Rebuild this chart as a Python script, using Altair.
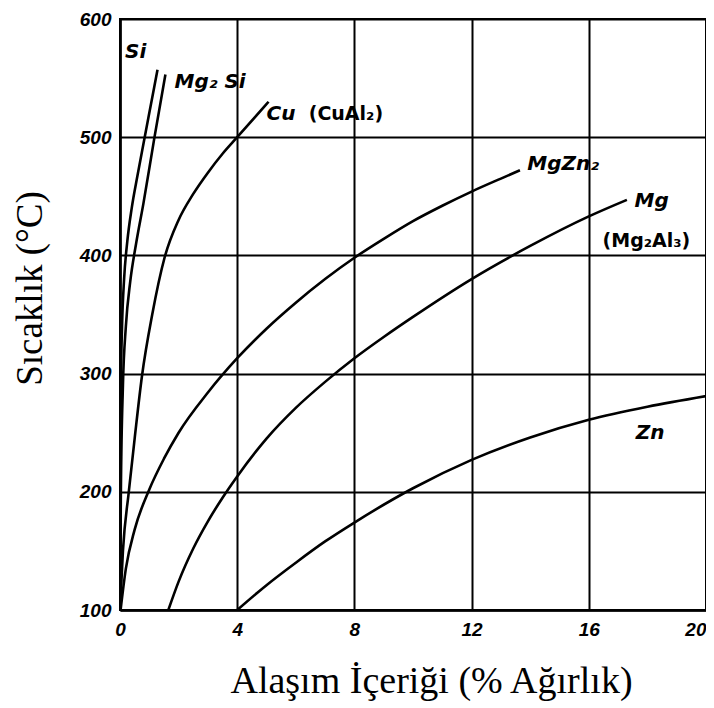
import altair as alt
import pandas as pd

# ---- data ----
si_x = [0.0, 0.01, 0.03, 0.07, 0.14, 0.25, 0.40, 0.60, 0.82, 1.05, 1.28]
si_y = [100, 200, 290, 340, 380, 412, 440, 468, 497, 527, 557]

mg2si_x = [0.0, 0.03, 0.10, 0.20, 0.35, 0.55, 0.80, 1.17, 1.55]
mg2si_y = [100, 200, 290, 340, 378, 410, 444, 499, 553]

cu_x = [0.0, 0.1, 0.3, 0.5, 0.75, 1.1, 1.52, 2.0, 2.5, 3.0, 3.5, 4.0, 5.07]
cu_y = [100, 150, 200, 245, 298, 350, 398, 430, 452, 470, 486, 500, 530]

mgzn2_x = [0.02, 0.2, 0.5, 1.0, 1.5, 2.0, 3.0, 4.0, 5.0, 6.0, 7.0, 8.0, 9.0,
           10.0, 11.0, 12.0, 13.0, 13.65]
mgzn2_y = [100, 135, 168, 202, 228, 250, 284, 313, 338, 360, 380, 398, 414,
           429, 442, 454, 465, 472]

mg_x = [1.65, 2.0, 2.5, 3.0, 3.5, 4.0, 5.0, 6.0, 7.0, 8.0, 9.0, 10.0, 12.0,
        14.0, 16.0, 17.3]
mg_y = [100, 124, 152, 175, 195, 213, 245, 271, 293, 313, 331, 348, 380,
        408, 433, 447]

zn_x = [4.0, 5.0, 6.0, 7.0, 8.0, 10.0, 12.0, 14.0, 16.0, 18.0, 20.0]
zn_y = [100, 121, 140, 158, 174, 203, 227, 246, 261, 272, 281]

series = {
    "Si": (si_x, si_y),
    "Mg2Si": (mg2si_x, mg2si_y),
    "Cu": (cu_x, cu_y),
    "MgZn2": (mgzn2_x, mgzn2_y),
    "Mg": (mg_x, mg_y),
    "Zn": (zn_x, zn_y),
}

rows = []
for name, (xs, ys) in series.items():
    for i, (xv, yv) in enumerate(zip(xs, ys)):
        rows.append({"series": name, "x": xv, "y": yv, "order": i})
lines_df = pd.DataFrame(rows)

big_labels = ["Si", "Mg\u2082 Si", "Cu", "MgZn\u2082", "Mg", "Zn"]
big_x = [0.17, 1.86, 5.0, 13.9, 17.56, 17.6]
big_y = [572, 547, 520, 477, 446, 250]

small_labels = ["(CuAl\u2082)", "(Mg\u2082Al\u2083)"]
small_x = [6.44, 16.47]
small_y = [520, 412]

x_ticks = [0, 4, 8, 12, 16, 20]
y_ticks = [100, 200, 300, 400, 500, 600]

big_df = pd.DataFrame({"label": big_labels, "x": big_x, "y": big_y})
small_df = pd.DataFrame({"label": small_labels, "x": small_x, "y": small_y})

xscale = alt.Scale(domain=[0, 20], nice=False, zero=False)
yscale = alt.Scale(domain=[100, 600], nice=False, zero=False)

xaxis = alt.Axis(
    values=x_ticks, grid=True, ticks=False, domain=True,
    title="Alaşım İçeriği (% Ağırlık)",
    titleFont="Liberation Serif", titleFontSize=38, titleFontWeight="normal",
    titleColor="black", titleX=311, titleY=82, titleAlign="center",
    titleBaseline="alphabetic",
    labelFont="Liberation Sans", labelFontStyle="italic", labelFontWeight="bold",
    labelFontSize=19, labelColor="black", labelPadding=10,
    labelAlign={"expr": "datum.value == 20 ? 'right' : 'center'"},
)
yaxis = alt.Axis(
    values=y_ticks, grid=True, ticks=False, domain=True,
    title="Sıcaklık (°C)",
    titleFont="Liberation Serif", titleFontSize=37, titleFontWeight="normal",
    titleColor="black", titleX=-90, titleY=269, titleAlign="center",
    titleBaseline="middle", titleAngle=270,
    labelFont="Liberation Sans", labelFontStyle="italic", labelFontWeight="bold",
    labelFontSize=19, labelColor="black", labelPadding=9,
)

lines = alt.Chart(lines_df).mark_line(
    color="black", strokeWidth=2.6, interpolate="monotone", clip=True
).encode(
    x=alt.X("x:Q", scale=xscale, axis=xaxis),
    y=alt.Y("y:Q", scale=yscale, axis=yaxis),
    detail="series:N",
    order="order:Q",
)

big_text = alt.Chart(big_df).mark_text(
    font="DejaVu Sans", fontStyle="italic", fontWeight="bold",
    fontSize=20, align="left", baseline="middle", color="black"
).encode(x="x:Q", y="y:Q", text="label:N")

small_text = alt.Chart(small_df).mark_text(
    font="DejaVu Sans", fontWeight="bold",
    fontSize=19, align="left", baseline="middle", color="black"
).encode(x="x:Q", y="y:Q", text="label:N")

chart = alt.layer(lines, big_text, small_text).properties(
    width=586, height=591,
    autosize=alt.AutoSizeParams(type="none"),
    padding={"left": 112, "top": 11, "right": 0, "bottom": 92},
    background="white",
).configure_axis(
    gridColor="black", gridWidth=2, gridOpacity=1,
    domainColor="black", domainWidth=2.5,
).configure_view(stroke="black", strokeWidth=2)

chart.save("out.html", embed_options={"renderer": "svg", "actions": False})
